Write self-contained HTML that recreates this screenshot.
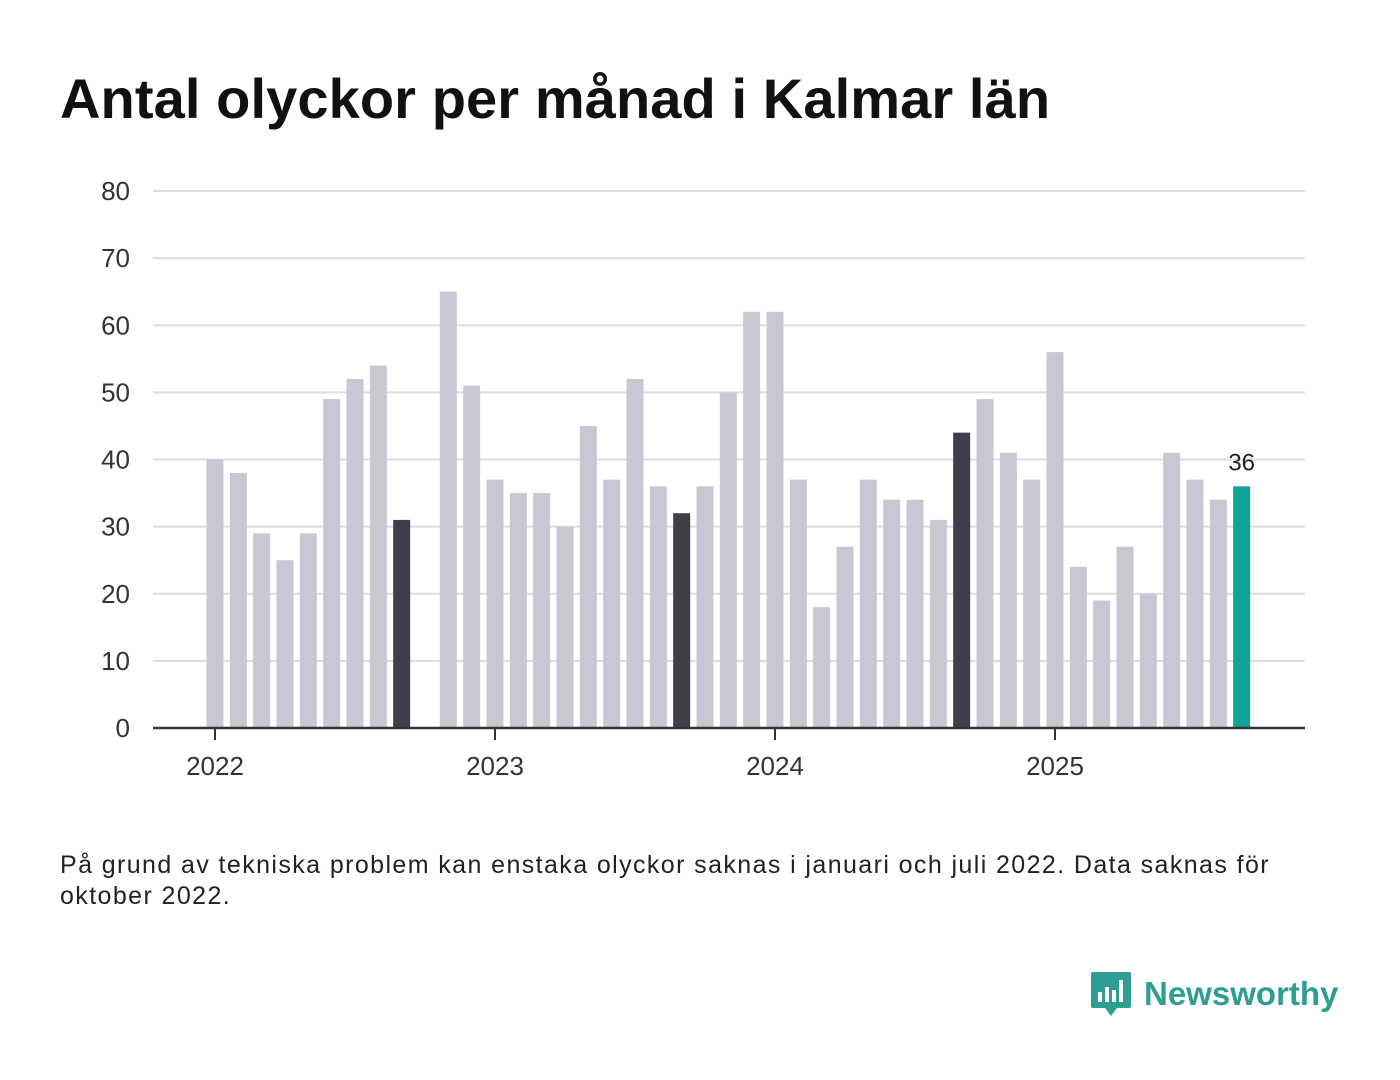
<!DOCTYPE html>
<html><head><meta charset="utf-8"><style>
body{margin:0;background:#fff;width:1400px;height:1080px;overflow:hidden;font-family:"Liberation Sans",sans-serif;}
h1{position:absolute;left:60px;top:66px;margin:0;font-size:56px;font-weight:bold;color:#111;letter-spacing:0.1px;}
#note{position:absolute;left:60px;top:850px;font-size:25px;color:#222;line-height:31px;width:1215px;letter-spacing:1.4px;}
#logo{position:absolute;left:1090px;top:970px;display:flex;align-items:center;gap:12px;color:#2f9e92;font-size:33px;font-weight:bold;}
</style></head><body>
<h1>Antal olyckor per månad i Kalmar län</h1>
<svg id="chart" width="1400" height="820" style="position:absolute;left:0;top:0"></svg>
<div id="note">På grund av tekniska problem kan enstaka olyckor saknas i januari och juli 2022. Data saknas för oktober 2022.</div>
<div id="logo"><svg width="42" height="48" viewBox="0 0 42 48"><path d="M3 2h36a2 2 0 0 1 2 2v32a2 2 0 0 1-2 2H27l-6 8-6-8H3a2 2 0 0 1-2-2V4a2 2 0 0 1 2-2z" fill="#2f9e92"/><rect x="8" y="22" width="4" height="10" fill="#fff"/><rect x="15" y="17" width="4" height="15" fill="#fff"/><rect x="22" y="20" width="4" height="12" fill="#fff"/><rect x="29" y="10" width="4" height="22" fill="#fff"/></svg><span>Newsworthy</span></div>
<script>
const values=[40,38,29,25,29,49,52,54,31,null,65,51,
37,35,35,30,45,37,52,36,32,36,50,62,
62,37,18,27,37,34,34,31,44,49,41,37,
56,24,19,27,20,41,37,34,36];
const yTicks=[0,10,20,30,40,50,60,70,80];
const yearLabels=["2022","2023","2024","2025"];
const svg=document.getElementById('chart');
const NS='http://www.w3.org/2000/svg';
const y=v=>728-v*(537/80);
const x=i=>215+i*(280/12);
function mk(t,a){const e=document.createElementNS(NS,t);for(const k in a)e.setAttribute(k,a[k]);svg.appendChild(e);return e;}
yTicks.forEach(t=>{
  if(t>0){const l=mk('line',{x1:153,x2:1305,y1:y(t),y2:y(t),stroke:'#ddd','stroke-width':2});
  
  }
  const tx=mk('text',{x:130,y:y(t)+9,'text-anchor':'end','font-size':26,fill:'#333','font-family':'Liberation Sans'});
  
  
  tx.textContent=t;
});
values.forEach((v,i)=>{
  if(v==null)return;
  const m=i%12;
  const last=i===values.length-1;
  const c=last?'#0fa39a':(m===8?'#3f3e4b':'#c8c7d3');
  const r=mk('rect',{x:x(i)-8.5,y:y(v),width:17,height:728-y(v),fill:c});
  
  
  if(last){const t=mk('text',{x:x(i),y:y(v)-16,'text-anchor':'middle','font-size':24,fill:'#222','font-family':'Liberation Sans'});
  
  
  t.textContent=v;}
});
const ax=mk('line',{x1:153,x2:1305,y1:728,y2:728,stroke:'#333','stroke-width':2.5});


yearLabels.forEach((yr,k)=>{
  const xi=x(k*12);
  const tk=mk('line',{x1:xi,x2:xi,y1:728,y2:740,stroke:'#333','stroke-width':2});
  
  
  const t=mk('text',{x:xi,y:775,'text-anchor':'middle','font-size':26,fill:'#333','font-family':'Liberation Sans'});
  
  
  t.textContent=yr;
});
</script>
</body></html>
